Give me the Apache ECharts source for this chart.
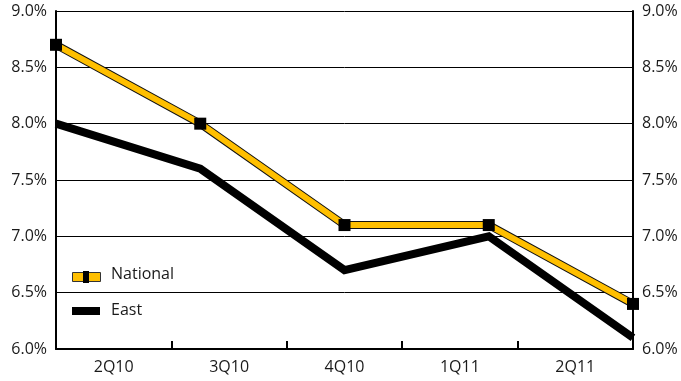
<!DOCTYPE html>
<html>
<head>
<meta charset="utf-8">
<script src="https://cdn.jsdelivr.net/npm/echarts@6/dist/echarts.min.js"></script>
<style>
  html, body { margin: 0; padding: 0; background: #fff; }
  #chart { width: 681px; height: 381px; }
</style>
</head>
<body>
<div id="chart"></div>
<script>
// Quarterly rates, national vs. east region (percent)
const quarters = ['2Q10', '3Q10', '4Q10', '1Q11', '2Q11'];
const nationalRates = [8.7, 8.0, 7.1, 7.1, 6.4];
const eastRates = [8.0, 7.6, 6.7, 7.0, 6.1];
const yMin = 6.0, yMax = 9.0, yStep = 0.5;

const FONT = '"Open Sans", "Noto Sans", sans-serif';
const ORANGE = '#FFBF00';
const TEXT = '#1a1a1a';

const chart = echarts.init(document.getElementById('chart'), null, { renderer: 'canvas' });

const pctLabel = v => v.toFixed(1) + '%';

chart.setOption({
  animation: false,
  backgroundColor: '#fff',
  grid: { left: 56, right: 48, top: 11, bottom: 32, containLabel: false },
  xAxis: [
    {
      // visible axis: labels centred in each quarter band, ticks on band edges
      type: 'category',
      data: quarters,
      boundaryGap: true,
      axisLine: { show: true, lineStyle: { color: '#000', width: 2 } },
      axisTick: { show: true, inside: true, length: 8, interval: 0, lineStyle: { color: '#000', width: 2 } },
      axisLabel: { color: TEXT, fontFamily: FONT, fontSize: 16, margin: 10 },
      splitLine: { show: false },
      z: 5
    },
    {
      // point positions: quarters placed on the band edges
      type: 'category',
      data: quarters,
      boundaryGap: false,
      show: false
    }
  ],
  yAxis: [
    {
      type: 'value', min: yMin, max: yMax, interval: yStep, position: 'left',
      axisLine: { show: true, lineStyle: { color: '#000', width: 2 } },
      axisTick: { show: false },
      axisLabel: { formatter: pctLabel, color: TEXT, fontFamily: FONT, fontSize: 16, margin: 9 },
      splitLine: { show: true, lineStyle: { color: '#000', width: 1 } }
    },
    {
      type: 'value', min: yMin, max: yMax, interval: yStep, position: 'right',
      axisLine: { show: true, lineStyle: { color: '#000', width: 2 } },
      axisTick: { show: false },
      axisLabel: { formatter: pctLabel, color: TEXT, fontFamily: FONT, fontSize: 16, margin: 9 },
      splitLine: { show: false }
    }
  ],
  series: [
    {
      name: 'East',
      type: 'line',
      xAxisIndex: 1, yAxisIndex: 0,
      data: eastRates,
      showSymbol: false,
      lineStyle: { color: '#000', width: 8, join: 'miter' },
      z: 2
    },
    {
      name: 'National outline',
      type: 'line',
      xAxisIndex: 1, yAxisIndex: 0,
      data: nationalRates,
      showSymbol: false,
      lineStyle: { color: '#111', width: 8 },
      z: 3
    },
    {
      name: 'National',
      type: 'line',
      xAxisIndex: 1, yAxisIndex: 0,
      data: nationalRates,
      symbol: 'rect',
      symbolSize: 12,
      showAllSymbol: true,
      itemStyle: { color: '#000' },
      lineStyle: { color: ORANGE, width: 6 },
      z: 4
    }
  ],
  graphic: [
    // legend: National
    { type: 'rect', left: 72, top: 272, shape: { width: 28, height: 9 },
      style: { fill: ORANGE, stroke: '#333', lineWidth: 1 }, z: 10 },
    { type: 'rect', left: 83, top: 271, shape: { width: 6, height: 12 },
      style: { fill: '#000' }, z: 11 },
    { type: 'text', left: 111, top: 266,
      style: { text: 'National', fill: TEXT, font: '16px ' + FONT }, z: 10 },
    // legend: East
    { type: 'rect', left: 72, top: 307, shape: { width: 28, height: 8 },
      style: { fill: '#000' }, z: 10 },
    { type: 'text', left: 111, top: 302,
      style: { text: 'East', fill: TEXT, font: '16px ' + FONT }, z: 10 }
  ]
});
</script>
</body>
</html>
